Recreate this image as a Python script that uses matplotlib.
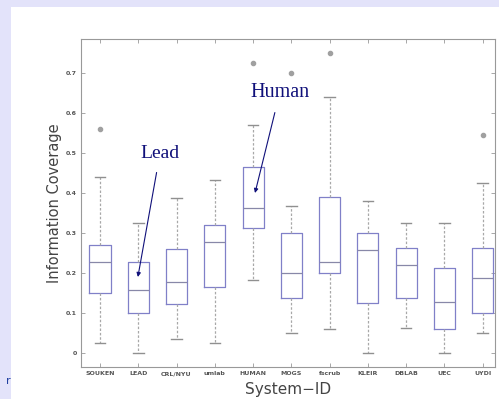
import matplotlib
matplotlib.use('Agg')
import matplotlib.pyplot as plt
from matplotlib.patches import Rectangle

# 系统名称
systems = ['SOUKEN', 'LEAD', 'CRL/NYU', 'umlab', 'HUMAN', 'MOGS',
           'fscrub', 'KLEIR', 'DBLAB', 'UEC', 'UYDI']

# 箱线图统计量
whislo = [0.025, 0.0, 0.035, 0.025, 0.183, 0.05, 0.06, 0.0, 0.063, 0.0, 0.05]
q1 = [0.15, 0.10, 0.122, 0.165, 0.312, 0.138, 0.20, 0.126, 0.137, 0.06, 0.10]
med = [0.227, 0.157, 0.177, 0.277, 0.362, 0.20, 0.228, 0.257, 0.22, 0.127, 0.187]
q3 = [0.27, 0.228, 0.26, 0.32, 0.465, 0.30, 0.39, 0.30, 0.262, 0.213, 0.262]
whishi = [0.44, 0.326, 0.388, 0.433, 0.57, 0.367, 0.64, 0.38, 0.325, 0.325, 0.425]
fliers = [[0.56], [], [], [], [0.726], [0.70], [0.75], [], [], [], [0.545]]

yticks = [0, 0.1, 0.2, 0.3, 0.4, 0.5, 0.6, 0.7]
ytick_labels = ['0', '0.1', '0.2', '0.3', '0.4', '0.5', '0.6', '0.7']

fig = plt.figure(figsize=(4.99, 3.99), dpi=100)
fig.patch.set_facecolor('#E3E3FA')
# 白色幻灯片区域
fig.patches.append(Rectangle((11 / 499, 0), 1, (399 - 7) / 399,
                             transform=fig.transFigure, facecolor='white',
                             edgecolor='none', zorder=-5))

ax = fig.add_axes([81 / 499, 1 - 367 / 399, (495 - 81) / 499, (367 - 39) / 399])
ax.set_facecolor('white')

stats = []
for i in range(len(systems)):
    stats.append({'whislo': whislo[i], 'q1': q1[i], 'med': med[i],
                  'q3': q3[i], 'whishi': whishi[i], 'fliers': fliers[i]})

ax.bxp(stats, positions=range(1, len(systems) + 1), widths=0.55,
       boxprops=dict(color='#8080C8', linewidth=0.9),
       medianprops=dict(color='#8888A8', linewidth=0.9),
       whiskerprops=dict(color='#A8A8A8', linewidth=0.9, linestyle=(0, (2, 1.5))),
       capprops=dict(color='#909090', linewidth=1.0),
       flierprops=dict(marker='o', markersize=3, markerfacecolor='#A0A0A0',
                       markeredgecolor='#A0A0A0'))

ax.set_xlim(0.504, 11.32)
ax.set_ylim(-0.035, 0.785)
ax.set_xticks(range(1, len(systems) + 1))
ax.set_xticklabels(systems, fontsize=4.5, color='#555555', fontweight='bold')
ax.set_yticks(yticks)
ax.set_yticklabels(ytick_labels, fontsize=4.5, color='#555555', fontweight='bold')
ax.tick_params(direction='in', length=3, width=0.6, color='#999999',
               top=True, right=True, pad=3)
for s in ax.spines.values():
    s.set_color('#999999')
    s.set_linewidth(0.8)

ax.set_ylabel('Information Coverage', fontsize=10.5, color='#444444', labelpad=3)
ax.set_xlabel('System\u2212ID', fontsize=11, color='#444444', labelpad=4)

# 注释
arrow = dict(arrowstyle='-|>', color='#10107A', lw=0.8, mutation_scale=6,
             shrinkA=6, shrinkB=0)
ax.annotate('Lead', xy=(1.99, 0.19), xytext=(2.57, 0.50), fontsize=14,
            family='Liberation Serif', color='#10107A', ha='center', va='center',
            arrowprops=arrow)
ax.annotate('Human', xy=(5.05, 0.40), xytext=(5.70, 0.652), fontsize=14.5,
            family='Liberation Serif', color='#10107A', ha='center', va='center',
            arrowprops=arrow)

fig.text(8 / 499, 1 - 381 / 399, 'r', fontsize=8, color='#2040A0',
         ha='center', va='center')

plt.savefig('out.png', dpi=100, facecolor=fig.get_facecolor())
